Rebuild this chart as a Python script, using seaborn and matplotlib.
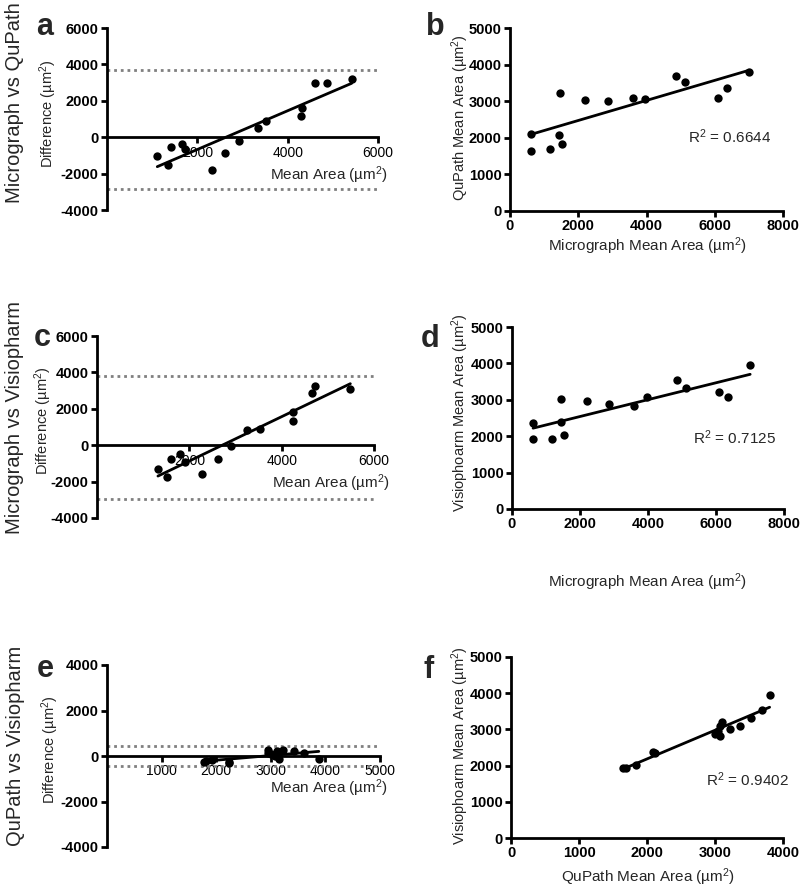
import matplotlib
matplotlib.use("Agg")
import matplotlib.pyplot as plt
import seaborn as sns
import numpy as np

# ---------------- data ----------------
# a: Bland-Altman Micrograph vs QuPath
a_mean = [1113, 1342, 1415, 1658, 1732, 2315, 2609, 2919, 3339, 3516, 4290, 4327, 4600, 4865, 5418]
a_diff = [-1049, -1527, -534, -350, -662, -1803, -865, -184, 497, 883, 1178, 1582, 2981, 2981, 3202]
a_loa = [3687, -2862]

# b / d: Micrograph mean area per sample
micrograph = [620, 620, 1175, 1430, 1455, 1515, 2205, 2865, 3600, 3965, 4865, 5120, 6085, 6350, 7005]
b_qupath = [2112, 1645, 1691, 2084, 3218, 1837, 3044, 3007, 3080, 3071, 3684, 3528, 3099, 3364, 3803]
d_visio = [2354, 1923, 1923, 2381, 3013, 2024, 2958, 2876, 2821, 3086, 3544, 3324, 3214, 3086, 3956]

# c: Bland-Altman Micrograph vs Visiopharm
c_mean = [1320, 1522, 1594, 1803, 1911, 2265, 2611, 2899, 3245, 3541, 4241, 4241, 4659, 4731, 5488]
c_diff = [-1299, -1756, -750, -494, -915, -1573, -768, -30, 823, 896, 1353, 1811, 2890, 3274, 3091]
c_loa = [3823, -2963]

# e: Bland-Altman QuPath vs Visiopharm
e_mean = [2233, 1784, 1807, 2232, 3115, 1930, 3001, 2941, 2950, 3078, 3614, 3426, 3156, 3225, 3879]
e_diff = [-242, -278, -232, -297, 205, -187, 86, 131, 259, -15, 140, 204, -115, 278, -153]
e_loa = [440, -426]

# f: QuPath vs Visiopharm
f_qupath = [2112, 1645, 1691, 2084, 3218, 1837, 3044, 3007, 3080, 3071, 3684, 3528, 3099, 3364, 3803]
f_visio = [2354, 1923, 1923, 2381, 3013, 2024, 2958, 2876, 2821, 3086, 3544, 3324, 3214, 3086, 3956]

r2_labels = ["0.6644", "0.7125", "0.9402"]
row_labels = ["Micrograph vs QuPath", "Micrograph vs Visiopharm", "QuPath vs Visiopharm"]

# ---------------- style ----------------
sns.set_style("ticks")
plt.rcParams["font.family"] = ["Liberation Sans", "DejaVu Sans"]
plt.rcParams["axes.unicode_minus"] = False
plt.rcParams["mathtext.fontset"] = "custom"
plt.rcParams["mathtext.rm"] = "Liberation Sans"
plt.rcParams["mathtext.it"] = "Liberation Sans:italic"
plt.rcParams["mathtext.bf"] = "Liberation Sans:bold"

W, H = 800, 889
fig = plt.figure(figsize=(W / 100, H / 100), dpi=100)


def px_axes(x0, y0, x1, y1):
    return fig.add_axes([x0 / W, 1 - y1 / H, (x1 - x0) / W, (y1 - y0) / H])


def ftext(x, y, s, **kw):
    fig.text(x / W, 1 - y / H, s, **kw)


UM2 = "(µm$^{2}$)"
TICKFS = 10.5
LABFS = 10.5


def style_axes(ax, xlim, ylim, xticks, yticks, ba=False):
    ax.set_xlim(*xlim)
    ax.set_ylim(*ylim)
    ax.set_xticks(xticks, labels=[str(t) for t in xticks],
                  fontweight="bold", fontsize=TICKFS)
    ax.set_yticks(yticks, labels=[str(t) for t in yticks],
                  fontweight="bold", fontsize=TICKFS)
    ax.spines["top"].set_visible(False)
    ax.spines["right"].set_visible(False)
    for sp in ("left", "bottom"):
        ax.spines[sp].set_linewidth(2)
        ax.spines[sp].set_color("black")
    if ba:
        ax.spines["bottom"].set_position(("data", 0))
    ax.tick_params(axis="both", direction="out", length=4, width=2,
                   pad=2, colors="black")
    ax.set_xlabel("")
    ax.set_ylabel("")
    ax.set_facecolor("none")


def scatter_fit(ax, x, y):
    sns.regplot(x=np.array(x, float), y=np.array(y, float), ax=ax, ci=None,
                scatter_kws=dict(s=36, color="black", alpha=1, linewidths=0, zorder=3),
                line_kws=dict(color="black", lw=2, zorder=4))


def loa_lines(ax, loa):
    for v in loa:
        ax.axhline(v, color="#808080", lw=2, ls=(0, (1, 1.4)), zorder=1)


# ---- a ----
ax = px_axes(107, 28, 378, 210)
loa_lines(ax, a_loa)
scatter_fit(ax, a_mean, a_diff)
style_axes(ax, (0, 6000), (-4000, 6000), [2000, 4000, 6000],
           [-4000, -2000, 0, 2000, 4000, 6000], ba=True)

# ---- b ----
ax = px_axes(510, 28, 783, 211)
scatter_fit(ax, micrograph, b_qupath)
style_axes(ax, (0, 8000), (0, 5000), [0, 2000, 4000, 6000, 8000],
           [0, 1000, 2000, 3000, 4000, 5000])

# ---- c ----
ax = px_axes(97, 336, 374, 518)
loa_lines(ax, c_loa)
scatter_fit(ax, c_mean, c_diff)
style_axes(ax, (0, 6000), (-4000, 6000), [2000, 4000, 6000],
           [-4000, -2000, 0, 2000, 4000, 6000], ba=True)

# ---- d ----
ax = px_axes(512, 327, 784, 509)
scatter_fit(ax, micrograph, d_visio)
style_axes(ax, (0, 8000), (0, 5000), [0, 2000, 4000, 6000, 8000],
           [0, 1000, 2000, 3000, 4000, 5000])

# ---- e ----
ax = px_axes(107, 665, 380, 847)
loa_lines(ax, e_loa)
scatter_fit(ax, e_mean, e_diff)
style_axes(ax, (0, 5000), (-4000, 4000), [1000, 2000, 3000, 4000, 5000],
           [-4000, -2000, 0, 2000, 4000], ba=True)

# ---- f ----
ax = px_axes(511, 657, 783, 838)
scatter_fit(ax, f_qupath, f_visio)
style_axes(ax, (0, 4000), (0, 5000), [0, 1000, 2000, 3000, 4000],
           [0, 1000, 2000, 3000, 4000, 5000])

# ---------------- texts ----------------
ROWFS = 14.5
ftext(15, 103, row_labels[0], rotation=90, ha="center", va="center", fontsize=ROWFS)
ftext(15, 418, row_labels[1], rotation=90, ha="center", va="center", fontsize=ROWFS)
ftext(16, 746, row_labels[2], rotation=90, ha="center", va="center", fontsize=ROWFS)

for (x, y) in [(48, 114), (43, 421), (50, 750)]:
    ftext(x, y, "Difference " + UM2, rotation=90, ha="center", va="center", fontsize=LABFS)

for (x, y) in [(388, 175), (390, 483), (388, 788)]:
    ftext(x, y, "Mean Area " + UM2, ha="right", va="center", fontsize=LABFS + 0.5)

ftext(460, 118, "QuPath Mean Area " + UM2, rotation=90, ha="center", va="center", fontsize=LABFS)
ftext(460, 413, "Visiophoarm Mean Area " + UM2, rotation=90, ha="center", va="center", fontsize=LABFS)
ftext(460, 746, "Visiophoarm Mean Area " + UM2, rotation=90, ha="center", va="center", fontsize=LABFS)

ftext(647, 246, "Micrograph Mean Area " + UM2, ha="center", va="center", fontsize=LABFS + 0.5)
ftext(647, 582, "Micrograph Mean Area " + UM2, ha="center", va="center", fontsize=LABFS + 0.5)
ftext(648, 877, "QuPath Mean Area " + UM2, ha="center", va="center", fontsize=LABFS + 0.5)

for (x, y), r in zip([(688, 137), (693, 438), (706, 780)], r2_labels):
    ftext(x, y, "R$^{2}$ = " + r, ha="left", va="center", fontsize=LABFS + 0.5)

LETFS = 22
for (x, y), s in zip([(36, 35), (426, 35), (34, 346), (421, 347), (37, 677), (424, 678)],
                     ["a", "b", "c", "d", "e", "f"]):
    ftext(x, y, s, ha="left", va="baseline", fontsize=LETFS, fontweight="bold")

fig.savefig("out.png", dpi=100, facecolor="white")
